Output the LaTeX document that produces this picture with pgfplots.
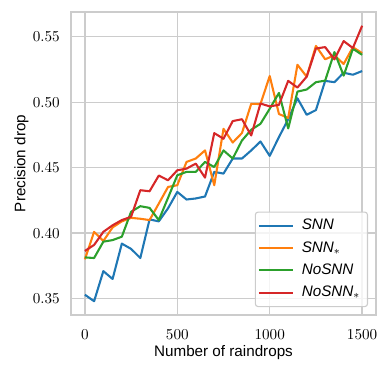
\documentclass[border=0pt]{standalone}
\usepackage{fontspec}
\setmainfont{Liberation Sans}
\usepackage{pgfplots}
\pgfplotsset{compat=1.18}
\definecolor{c1}{HTML}{1F77B4}
\definecolor{c2}{HTML}{FF7F0E}
\definecolor{c3}{HTML}{2CA02C}
\definecolor{c4}{HTML}{D62728}
\pgfplotstableread{
x snn snns nosnn nosnns
0    0.353  0.380  0.3815 0.3864
50   0.348  0.401  0.381  0.391
100  0.371  0.394  0.3935 0.401
150  0.365  0.4044 0.3947 0.406
200  0.392  0.409  0.3973 0.410
250  0.388  0.4117 0.4163 0.4125
300  0.381  0.411  0.4206 0.4328
350  0.4105 0.410  0.4193 0.432
400  0.409  0.4226 0.410  0.444
450  0.419  0.4353 0.427  0.4404
500  0.4315 0.4366 0.4442 0.448
550  0.4257 0.4544 0.4468 0.4493
600  0.4265 0.457  0.4468 0.4531
650  0.428  0.4632 0.4544 0.4424
700  0.4468 0.4366 0.4505 0.4764
750  0.4455 0.4797 0.4632 0.4721
800  0.457  0.4692 0.4570 0.4856
850  0.457  0.4765 0.4708 0.4870
900  0.4632 0.4988 0.479  0.4746
950  0.470  0.4986 0.4835 0.4990
1000 0.459  0.5200 0.495  0.4968
1050 0.4734 0.4910 0.5071 0.498
1100 0.487  0.4880 0.4800 0.5163
1150 0.503  0.5286 0.5081 0.5112
1200 0.4904 0.5195 0.5097 0.5195
1250 0.4940 0.5430 0.5153 0.5410
1300 0.5163 0.5328 0.5165 0.5421
1350 0.5153 0.5358 0.5383 0.5327
1400 0.5225 0.5292 0.5203 0.5467
1450 0.5210 0.5420 0.5408 0.5414
1500 0.5238 0.5375 0.5362 0.5584
}\data
\begin{document}
\begin{tikzpicture}
\begin{axis}[
  name=ax,
  scale only axis,
  width=219.6bp, height=218.16bp,
  xmin=-75, xmax=1575, ymin=0.3375, ymax=0.5689,
  xtick={0,500,1000,1500},
  ytick={0.35,0.40,0.45,0.50,0.55},
  scaled y ticks=false,
  xticklabel style={/pgf/number format/1000 sep={}},
  yticklabel style={/pgf/number format/fixed, /pgf/number format/fixed zerofill, /pgf/number format/precision=2},
  major tick length=0pt,
  grid=major,
  major grid style={draw=black!20, line width=1bp},
  axis line style={draw=black!20, line width=1.25bp},
  tick label style={font=\fontsize{11}{13}\selectfont},
  xticklabel style={anchor=north, inner sep=0pt, yshift=-10.3bp},
  yticklabel style={anchor=east, inner sep=0pt, xshift=-7.9bp},
  xlabel={Number of raindrops},
  ylabel={Precision drop},
  label style={font=\fontsize{11}{13}\selectfont},
  xlabel style={at={(axis description cs:0.5,-0.1375)}, anchor=base, inner sep=0pt},
  ylabel style={at={(axis description cs:-0.1494,0.5)}, anchor=base, inner sep=0pt},
  legend style={
    at={(axis description cs:0.974,0.026)}, anchor=south east,
    draw=black!20, fill=white, fill opacity=0.8, text opacity=1,
    rounded corners=2bp, line width=0.8bp,
    font=\fontsize{11}{13}\selectfont,
    inner xsep=1.8bp, inner ysep=2bp,
    row sep=0pt, column sep=2.1bp,
    nodes={inner xsep=3.6bp, inner ysep=2.75bp, text height=8bp, text depth=2.5bp}
  },
  legend cell align=left,
  legend image code/.code={\draw[#1] (0bp,0bp) -- (24.5bp,0bp);},
  every axis plot/.append style={line width=1.5bp, line join=round, mark=none},
]
\addplot[c1] table[x=x, y=snn] {\data};
\addlegendentry{\textit{SNN}}
\addplot[c2] table[x=x, y=snns] {\data};
\addlegendentry{\textit{SNN}$_{\ast}$}
\addplot[c3] table[x=x, y=nosnn] {\data};
\addlegendentry{\textit{NoSNN}}
\addplot[c4] table[x=x, y=nosnns] {\data};
\addlegendentry{\textit{NoSNN}$_{\ast}$}
\end{axis}
\path ([shift={(-51.12bp,-41.76bp)}]ax.south west) rectangle ([shift={(10.08bp,8.64bp)}]ax.north east);
\end{tikzpicture}
\end{document}
